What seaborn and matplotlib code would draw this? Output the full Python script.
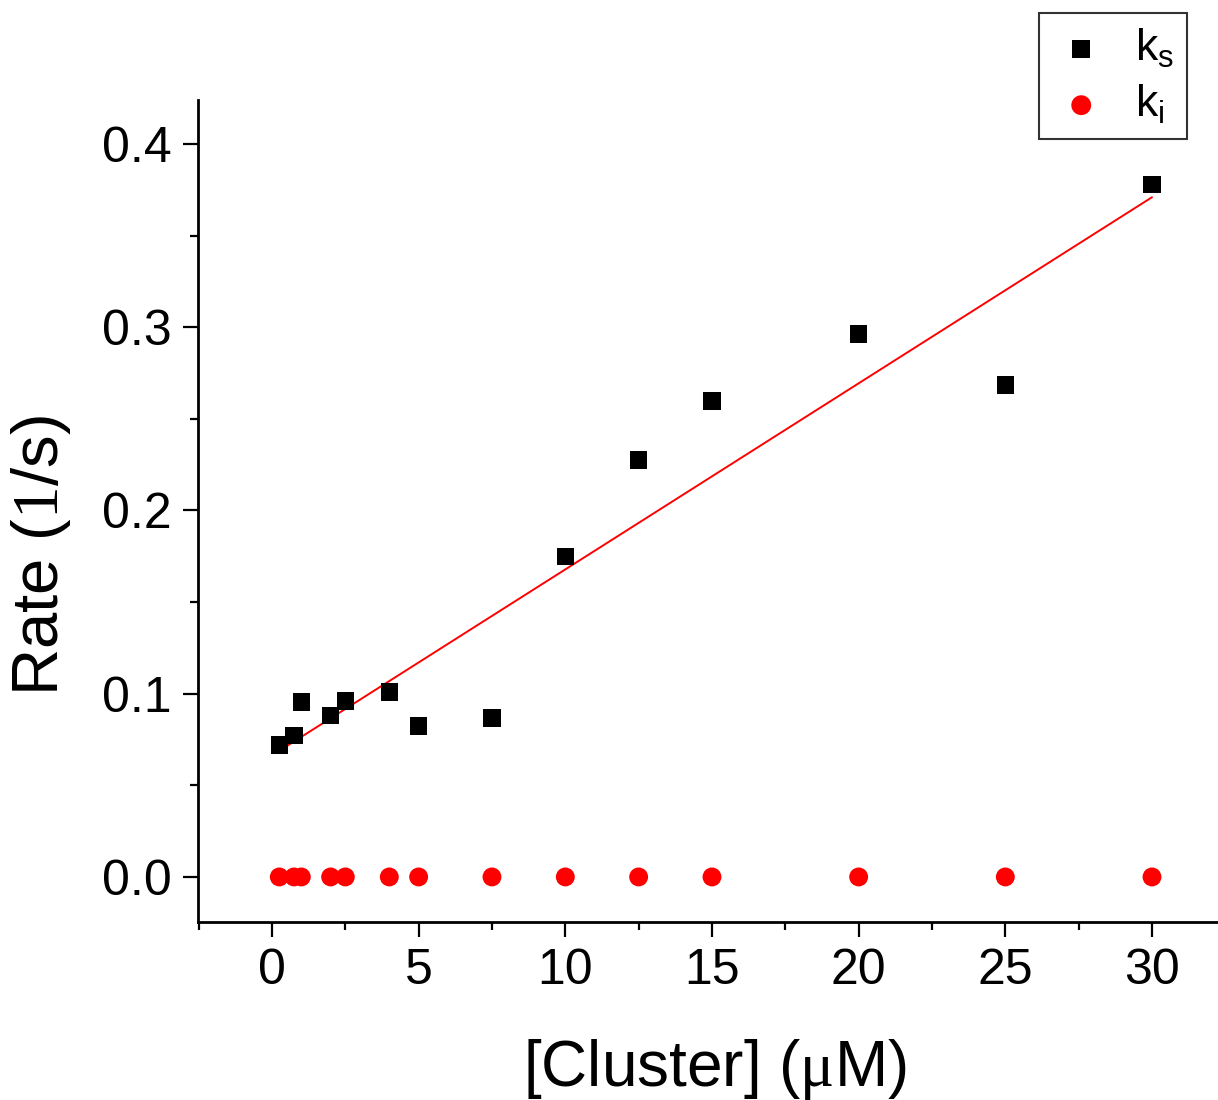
import matplotlib
matplotlib.use('Agg')
import matplotlib.pyplot as plt
import numpy as np
import pandas as pd
import seaborn as sns
from matplotlib.ticker import MultipleLocator, FormatStrFormatter

# data
cluster_uM = [0.25, 0.75, 1.0, 2.0, 2.5, 4.0, 5.0, 7.5, 10.0, 12.5, 15.0, 20.0, 25.0, 30.0]
k_s = [0.072, 0.077, 0.0955, 0.088, 0.096, 0.101, 0.0824, 0.0868,
       0.175, 0.2276, 0.2598, 0.2963, 0.2685, 0.378]
k_i = [0.0, 0.0, 0.0, 0.0, 0.0, 0.0, 0.0, 0.0, 0.0, 0.0, 0.0, 0.0, 0.0, 0.0]

sns.set_style('ticks')
plt.rcParams['font.family'] = ['Liberation Sans', 'DejaVu Sans']
plt.rcParams['mathtext.fontset'] = 'custom'
plt.rcParams['mathtext.rm'] = 'Liberation Serif'
plt.rcParams['mathtext.sf'] = 'Liberation Sans'
plt.rcParams['text.color'] = 'black'
plt.rcParams['axes.labelcolor'] = 'black'

df = pd.DataFrame({'conc': cluster_uM, 'ks': k_s, 'ki': k_i})

fig = plt.figure(figsize=(12.18, 11), dpi=100)
ax = fig.add_axes([0.1626, 0.1618, 0.8374, 0.7473])

# linear fit of k_s (red line)
sns.regplot(x='conc', y='ks', data=df, ax=ax, ci=None, scatter=False,
            line_kws=dict(color='red', lw=1.4))
sns.scatterplot(x='conc', y='ks', data=df, ax=ax, marker='s', s=155,
                color='black', edgecolor='none', label=r'$\mathsf{k_s}$',
                zorder=3)
sns.scatterplot(x='conc', y='ki', data=df, ax=ax, marker='o', s=185,
                color='red', edgecolor='none', label=r'$\mathsf{k_i}$',
                zorder=3)

ax.set_xlim(-2.52, 32.25)
ax.set_ylim(-0.0246, 0.424)
ax.xaxis.set_major_locator(MultipleLocator(5))
ax.xaxis.set_minor_locator(MultipleLocator(2.5))
ax.yaxis.set_major_locator(MultipleLocator(0.1))
ax.yaxis.set_minor_locator(MultipleLocator(0.05))
ax.yaxis.set_major_formatter(FormatStrFormatter('%.1f'))

sns.despine(ax=ax)
for side in ['left', 'bottom']:
    ax.spines[side].set_linewidth(2)
    ax.spines[side].set_color('black')
ax.tick_params(which='major', length=11, width=1.6, labelsize=36,
               color='black', labelcolor='black', pad=8)
ax.tick_params(which='minor', length=5.5, width=1.6, color='black')

ax.set_xlabel(r'[Cluster] ($\mathrm{\mu}$M)', fontsize=46)
ax.set_ylabel(r'Rate ($\mathrm{1}$/s)', fontsize=47)
ax.xaxis.set_label_coords(0.507, -0.14)
ax.yaxis.set_label_coords(-0.123, 0.446)

leg = ax.legend(loc='upper right', bbox_to_anchor=(0.9745, 0.9882),
                bbox_transform=fig.transFigure, borderaxespad=0,
                fontsize=32, frameon=True, fancybox=False,
                edgecolor='black', handlelength=1.3, handletextpad=0.55,
                borderpad=0.3, labelspacing=0.3, markerscale=1.05)
leg.get_frame().set_linewidth(1.5)

fig.savefig('out.png', dpi=100)
